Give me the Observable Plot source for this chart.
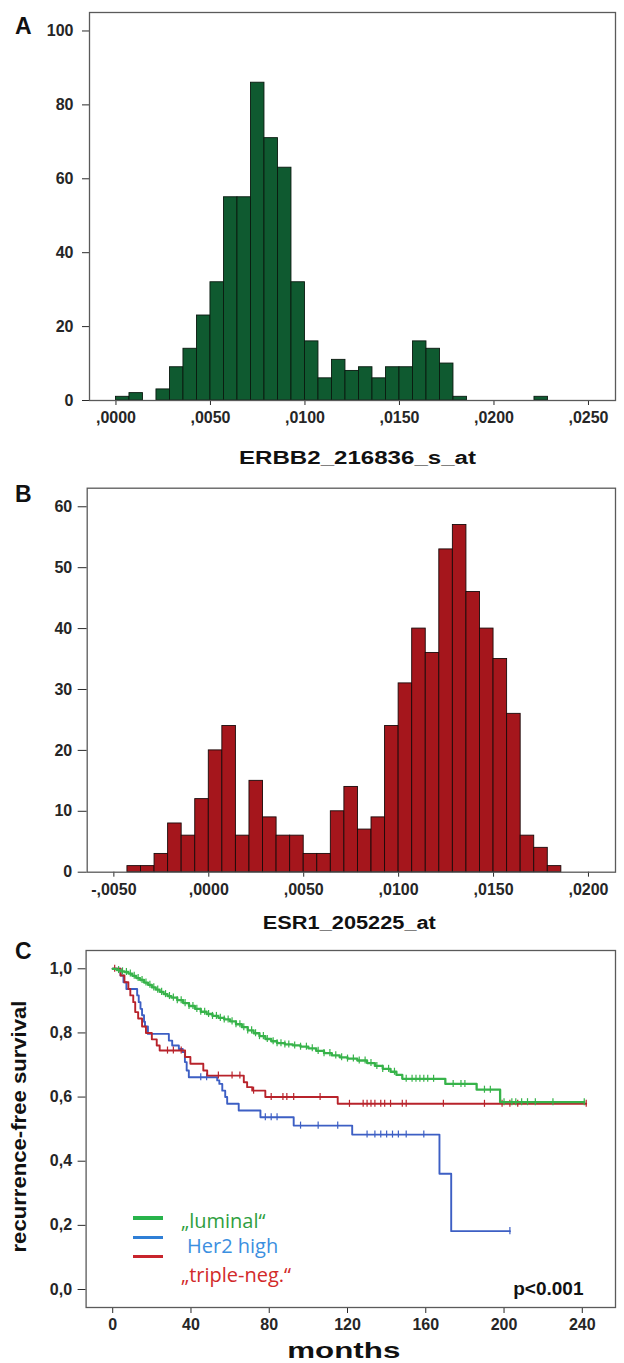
<!DOCTYPE html>
<html><head><meta charset="utf-8">
<script src="https://cdn.jsdelivr.net/npm/d3@7"></script>
<script src="https://cdn.jsdelivr.net/npm/@observablehq/plot@0.6"></script>
<style>
body{margin:0;background:#fff;}
#wrap{position:relative;width:624px;height:1363px;overflow:hidden;font-family:"Liberation Sans",Arial,sans-serif;background:#fff;}
#wrap svg{position:absolute;left:0;}
.letter{position:absolute;font-weight:bold;font-size:23px;color:#111;line-height:23px;}
.legtxt{position:absolute;font-family:"Open Sans",sans-serif;font-size:20px;line-height:22px;white-space:nowrap;}
.sw{position:absolute;height:3.5px;width:30px;}
</style></head><body><div id="wrap"></div>
<script>
// ---------- Panel A: ERBB2 histogram ----------
const erbb2BinWidth = 0.005 / 7;
const erbb2FirstBin = 0;
const erbb2Counts = [1,2,0,3,9,14,23,32,55,55,86,71,63,32,16,6,11,8,9,6,9,9,16,14,10,1,0,0,0,0,0,1];
const erbb2Ticks = [0,0.005,0.01,0.015,0.02,0.025];
const countTicksA = [0,20,40,60,80,100];
const titleA = "ERBB2_216836_s_at";

// ---------- Panel B: ESR1 histogram ----------
const esr1BinWidth = 0.005 / 7;
const esr1FirstBin = -6;
const esr1Counts = [1,1,3,8,6,12,20,24,6,15,9,6,6,3,3,10,14,7,9,24,31,40,36,53,57,46,40,35,26,6,4,1];
const esr1Ticks = [-0.005,0,0.005,0.01,0.015,0.02];
const countTicksB = [0,10,20,30,40,50,60];
const titleB = "ESR1_205225_at";

// ---------- Panel C: Kaplan-Meier ----------
const groups = ["„luminal“", "Her2 high", "„triple-neg.“"];
const curveColors = ["#37b34a", "#3d5fc4", "#b8232b"];
const legendSwatch = ["#27b34b", "#2f7fd6", "#c8242c"];
const legendText = ["#2f9f3f", "#3b8fe0", "#d22a2a"];

const luminalT = [2,4,6,8,10,12,14,16,18,20,22,24,26,28,30,33,36,39,42,45,48,51,54,57,60,63,66,69,72,75,78,81,84,88,92,96,100,104,108,112,116,120,125,130,134,138,142,145,148,170,186,198];
const luminalS = [0.996,0.992,0.99,0.985,0.978,0.971,0.965,0.957,0.95,0.942,0.935,0.928,0.921,0.915,0.91,0.902,0.893,0.884,0.875,0.866,0.859,0.853,0.847,0.842,0.836,0.827,0.818,0.808,0.799,0.79,0.781,0.774,0.768,0.764,0.761,0.757,0.752,0.744,0.737,0.73,0.724,0.72,0.714,0.706,0.697,0.688,0.679,0.669,0.657,0.641,0.623,0.584];
const luminalEnd = 241;
const luminalCensor = [3,5,7,9,11,13,15,17,19,21,23,25,27,29,31,33,35,37,39,41,43,45,47,49,51,53,55,57,59,61,63,65,67,69,71,73,75,77,79,82,84,86,88,90,93,96,99,102,105,108,111,114,117,120,123,126,129,132,135,138,141,144,150,153,155,157,159,161,164,174,178,180,190,193,200,204,206,209,212,216,225,241];

const her2T = [4,5.5,7,12.5,13.3,14.2,15,16,16.5,18,28.7,30.4,33.8,35.8,36.9,37.8,38.9,53.4,54.5,56,57.5,58.5,64.4,75.5,92.5,122.4,167,173];
const her2S = [0.979,0.958,0.937,0.917,0.896,0.875,0.855,0.835,0.82,0.797,0.776,0.761,0.75,0.74,0.709,0.683,0.662,0.652,0.641,0.62,0.6,0.579,0.558,0.537,0.511,0.483,0.361,0.182];
const her2End = 203;
const her2Censor = [45,48,78,81,84,96,105,115,130,134,137,140,143,146,150,159,203];

const tripleT = [4,6,8,9,10.5,11.5,13,15,17,20,22.5,24,37,39.7,46.3,48.3,67,68.7,71.3,78,115];
const tripleS = [0.979,0.958,0.937,0.917,0.896,0.865,0.845,0.82,0.8,0.78,0.761,0.745,0.725,0.704,0.683,0.667,0.646,0.631,0.62,0.6,0.579];
const tripleEnd = 242;
const tripleCensor = [1,28,31,35,54,61,65,72,81,87,89,92.5,106,121,128,130,132,134,137,139,142,148,150,169,190,199,203,207,242];

const monthTicks = [0,40,80,120,160,200,240];
const survTicks = [0,0.2,0.4,0.6,0.8,1.0];
const titleC = "months";
const yLabelC = "recurrence-free survival";
const pText = "p<0.001";

// ---------- helpers ----------
const fmtBin = v => (v < 0 ? "-" : "") + d3.format(".4f")(Math.abs(v)).replace(/^0/, "").replace(".", ",");
const fmtSurv = v => d3.format(".1f")(v).replace(".", ",");
const FONT = "'Liberation Sans', Arial, sans-serif";
const baseStyle = "font-family:" + FONT + ";font-size:16px;font-weight:bold;color:#2a2a2a;background:transparent;overflow:visible;";
function stretch(svg, str, len) {
  svg.querySelectorAll("text").forEach(t => {
    if (t.textContent === str) { t.setAttribute("textLength", len); t.setAttribute("lengthAdjust", "spacingAndGlyphs"); }
  });
}
function axisFont(svg) {
  svg.querySelectorAll('[aria-label*="axis"] text').forEach(t => {
    t.style.fontSize = "16px"; t.style.fontFamily = FONT; t.style.fontWeight = "bold"; t.style.fill = "#262626";
  });
}
const wrap = document.getElementById("wrap");

// ---------- Plot A ----------
const binsA = erbb2Counts.map((c, i) => ({x1: (erbb2FirstBin + i) * erbb2BinWidth, x2: (erbb2FirstBin + i + 1) * erbb2BinWidth, count: c})).filter(d => d.count > 0);
const plotA = Plot.plot({
  width: 624, height: 470, marginTop: 12, marginBottom: 70, marginLeft: 89, marginRight: 9,
  style: baseStyle,
  x: {domain: [-0.0014, 0.02643], ticks: erbb2Ticks, tickFormat: fmtBin, tickSize: 5, tickPadding: 6, label: null},
  y: {domain: [0, 105], ticks: countTicksA, tickSize: 7, tickPadding: 9, label: null},
  marks: [
    Plot.rect(binsA, {x1: "x1", x2: "x2", y1: 0, y2: "count", fill: "#0f5a30", stroke: "#0a1a10", strokeWidth: 0.9}),
    Plot.frame({stroke: "#5a5a5a", strokeWidth: 1.3}),
    Plot.text([titleA], {frameAnchor: "bottom", dx: 5, dy: 58, fontSize: 18, fontWeight: "bold", lineAnchor: "middle", fill: "#111"})
  ]
});
plotA.style.top = "0px";
wrap.appendChild(plotA);
stretch(plotA, titleA, 237);
axisFont(plotA);

// ---------- Plot B ----------
const binsB = esr1Counts.map((c, i) => ({x1: (esr1FirstBin + i) * esr1BinWidth, x2: (esr1FirstBin + i + 1) * esr1BinWidth, count: c})).filter(d => d.count > 0);
const plotB = Plot.plot({
  width: 624, height: 470, marginTop: 17.7, marginBottom: 68.3, marginLeft: 86.7, marginRight: 9,
  style: baseStyle,
  x: {domain: [-0.006405, 0.021424], ticks: esr1Ticks, tickFormat: fmtBin, tickSize: 5, tickPadding: 6, label: null},
  y: {domain: [0, 63.05], ticks: countTicksB, tickSize: 9, tickPadding: 6, label: null},
  marks: [
    Plot.rect(binsB, {x1: "x1", x2: "x2", y1: 0, y2: "count", fill: "#a5161c", stroke: "#1a0a0a", strokeWidth: 0.9}),
    Plot.frame({stroke: "#5a5a5a", strokeWidth: 1.3}),
    Plot.text([titleB], {frameAnchor: "bottom", dx: -2, dy: 51.3, fontSize: 18, fontWeight: "bold", lineAnchor: "middle", fill: "#111"})
  ]
});
plotB.style.top = "470px";
wrap.appendChild(plotB);
stretch(plotB, titleB, 173);
axisFont(plotB);

// ---------- Plot C ----------
function stepPoints(g, T, S, end) {
  const pts = [{group: g, t: 0, s: 1}];
  T.forEach((t, i) => pts.push({group: g, t, s: S[i]}));
  pts.push({group: g, t: end, s: S[S.length - 1]});
  return pts;
}
function censorPoints(g, C, T, S) {
  return C.map(c => {
    let s = 1;
    T.forEach((t, i) => { if (t <= c) s = S[i]; });
    return {group: g, t: c, s};
  });
}
const series = [
  [groups[1], her2T, her2S, her2End, her2Censor, 1.9],
  [groups[2], tripleT, tripleS, tripleEnd, tripleCensor, 1.9],
  [groups[0], luminalT, luminalS, luminalEnd, luminalCensor, 2.3]
];
const kmMarks = [];
series.forEach(([g, T, S, end, C, sw]) => {
  kmMarks.push(Plot.line(stepPoints(g, T, S, end), {x: "t", y: "s", stroke: "group", curve: "step-after", strokeWidth: sw}));
  kmMarks.push(Plot.ruleX(censorPoints(g, C, T, S), {x: "t", y1: d => d.s - 0.011, y2: d => d.s + 0.011, stroke: "group", strokeWidth: 1.2}));
});
const plotC = Plot.plot({
  width: 624, height: 423, marginTop: 10, marginBottom: 56, marginLeft: 85.6, marginRight: 9,
  style: baseStyle,
  color: {domain: groups, range: curveColors},
  x: {domain: [-13.6, 256.97], ticks: monthTicks, tickSize: 6, tickPadding: 5, label: null},
  y: {domain: [-0.0561, 1.057], ticks: survTicks, tickFormat: fmtSurv, tickSize: 8, tickPadding: 6, label: null},
  marks: [
    ...kmMarks,
    Plot.frame({stroke: "#5a5a5a", strokeWidth: 1.3}),
    Plot.text([titleC], {frameAnchor: "bottom", dx: -7, dy: 43, fontSize: 22, fontWeight: "bold", lineAnchor: "middle", fill: "#111"}),
    Plot.text([yLabelC], {frameAnchor: "left", dx: -66.6, dy: -2.5, rotate: -90, textAnchor: "middle", fontSize: 21, fontWeight: "bold", lineAnchor: "middle", fill: "#111"}),
    Plot.text([pText], {frameAnchor: "bottom-right", dx: -32, dy: -19, textAnchor: "end", fontSize: 19, fontWeight: "bold", lineAnchor: "middle", fill: "#111"})
  ]
});
plotC.style.top = "940px";
wrap.appendChild(plotC);
stretch(plotC, titleC, 113);
stretch(plotC, yLabelC, 252);
axisFont(plotC);

// ---------- Panel letters ----------
[["A", 15, 15], ["B", 15, 483], ["C", 15, 940]].forEach(([t, x, y]) => {
  const d = document.createElement("div");
  d.className = "letter"; d.textContent = t; d.style.left = x + "px"; d.style.top = y + "px";
  wrap.appendChild(d);
});

// ---------- Legend (panel C) ----------
const swatchY = [1216, 1235.5, 1254.5];
const textPos = [[181, 1210], [187, 1235], [181, 1263.5]];
groups.forEach((g, i) => {
  const s = document.createElement("div");
  s.className = "sw"; s.style.left = "133px"; s.style.top = swatchY[i] + "px"; s.style.background = legendSwatch[i];
  wrap.appendChild(s);
  const t = document.createElement("div");
  t.className = "legtxt"; t.textContent = g; t.style.left = textPos[i][0] + "px"; t.style.top = textPos[i][1] + "px"; t.style.color = legendText[i];
  wrap.appendChild(t);
});
</script>
</body></html>
